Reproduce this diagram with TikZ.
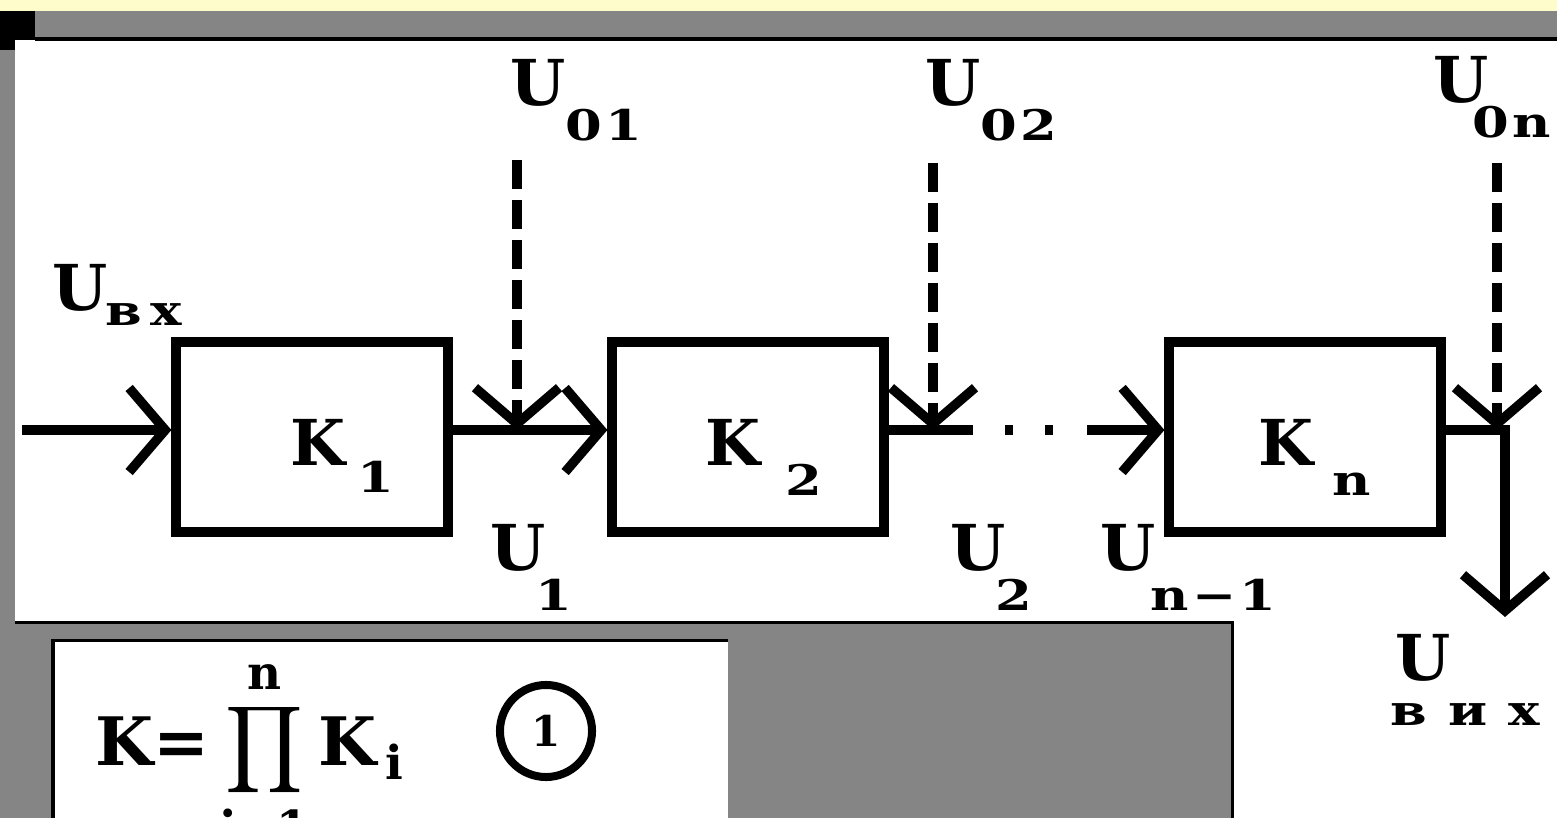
\documentclass[tikz,border=0pt]{standalone}
\usepackage{amsmath}
\usepackage{fontspec}
\setmainfont{DejaVu Serif}
\newfontfamily\idxfont[FakeStretch=1.25,LetterSpace=8]{DejaVu Serif}
\usepackage{tikz}
\usetikzlibrary{arrows.meta}
\tikzset{>={Straight Barb[length=3.6mm,width=8.4mm]}}
\colorlet{frameGray}{black!48}
\definecolor{topYellow}{RGB}{255,252,204}

\begin{document}
\begin{tikzpicture}[x=0.01cm,y=-0.01cm,
  wire/.style={line width=0.095cm},
  feed/.style={wire,dash pattern=on 0.29cm off 0.11cm},
  blok/.style={draw,line width=0.1cm,minimum width=2.71cm,minimum height=1.9cm,inner sep=0},
  big/.style={anchor=base west,inner sep=0,font=\fontsize{18}{20}\selectfont\bfseries},
  small/.style={anchor=base west,inner sep=0,font=\fontsize{12}{14}\selectfont\idxfont\bfseries}]

  \useasboundingbox (0,0) rectangle (1557,818);

  % frame
  \fill [frameGray] (0,0) rectangle (1557,818);
  \fill [topYellow] (0,0) rectangle (1557,11);
  \fill [black] (0,11) rectangle (35,40);
  \fill [black] (0,40) rectangle (15,50);
  \fill [white] (15,40) -- (1557,40) -- (1557,818) -- (1232,818)
    -- (1232,622) -- (15,622) -- cycle;
  \draw [line width=0.03cm] (35,39) -- (1557,39);
  \draw [line width=0.03cm] (15,622) -- (1232,622) -- (1232,818);
  \fill [white] (53,640) rectangle (728,818);
  \draw [line width=0.03cm] (53,818) -- (53,640) -- (728,640);

  % stages
  \node [blok] (k1) at (312,437) {};
  \node [blok] (k2) at (748,437) {};
  \node [blok] (kn) at (1305,437) {};

  \coordinate (in) at (22,430);
  \coordinate (j1) at (517,430);
  \coordinate (j2) at (933,430);
  \coordinate (jn) at (1497,430);
  \coordinate (gapL) at (973,430);
  \coordinate (gapR) at (1087,430);
  \coordinate (out) at (1505,617);
  \coordinate (s01) at (517,160);
  \coordinate (s02) at (933,163);
  \coordinate (s0n) at (1497,163);

  \draw [wire,->] (in) -- (in -| k1.west);
  \draw [wire,->] (k1.east |- j1) -- (j1 -| k2.west);
  \draw [wire] (k2.east |- j2) -- (gapL);
  \draw [wire,dash pattern=on 0.08cm off 0.32cm] (1005,430) -- (1053,430);
  \draw [wire,->] (gapR) -- (gapR -| kn.west);
  \draw [wire,->] (kn.east |- jn) -| (out);

  \draw [feed,->] (s01) -- (j1);
  \draw [feed,->] (s02) -- (j2);
  \draw [feed,->] (s0n) -- (jn);

  % labels
  \node [big] (k1K) at (290,465) {K};
  \node [small] (k1I) at (357,492) {1};
  \node [big] (k2K) at (705,465) {K};
  \node [small] (k2I) at (785,495) {2};
  \node [big] (knK) at (1258,465) {K};
  \node [small] (knI) at (1332,495) {n};

  \node [big] (uin) at (52,310) {U};
  \node [small] (uinI) at (105,325) {\addfontfeature{LetterSpace=20}вх};
  \node [big] (u01) at (510,105) {U};
  \node [small] (u01I) at (565,140) {01};
  \node [big] (u02) at (925,105) {U};
  \node [small] (u02I) at (980,140) {02};
  \node [big] (u0n) at (1433,103) {U};
  \node [small] (u0nI) at (1472,137) {0n};
  \node [big] (u1) at (490,570) {U};
  \node [small] (u1I) at (535,610) {1};
  \node [big] (u2) at (950,570) {U};
  \node [small] (u2I) at (995,610) {2};
  \node [big] (un1) at (1100,570) {U};
  \node [small] (un1I) at (1150,610) {n−1};
  \node [big] (uout) at (1395,680) {U};
  \node [small] (uoutI) at (1390,725) {\addfontfeature{LetterSpace=50}вих};

  % formula
  \node [anchor=base west,inner sep=0,font=\fontsize{19}{22}\selectfont] (prodK) at (95,765)
    {$\mathbf{K}\text{\bfseries=}\displaystyle\prod_{\mathbf{i=1}}^{\mathbf{n}}\mathbf{K}_{\,\mathbf{i}}$};
  \node [draw,circle,line width=0.08cm,minimum size=0.92cm,inner sep=0,
    font=\fontsize{12}{14}\selectfont\bfseries] (eqno) at (546,731) {1};

\end{tikzpicture}
\end{document}
